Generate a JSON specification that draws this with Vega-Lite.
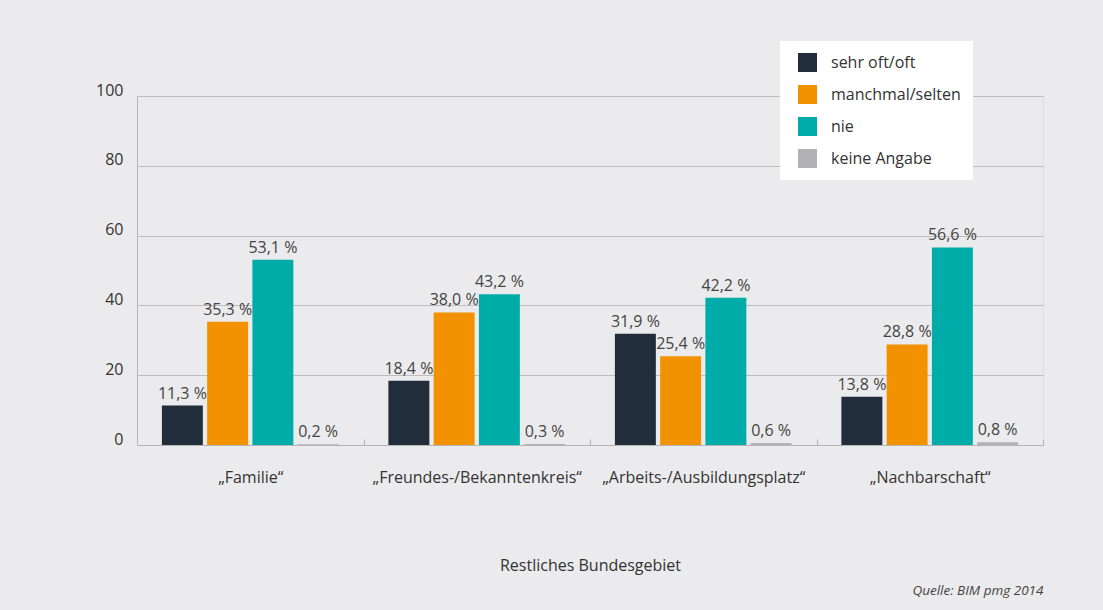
{
  "$schema": "https://vega.github.io/schema/vega-lite/v6.json",
  "width": 906,
  "height": 349,
  "autosize": {"type": "none"},
  "padding": {"left": 137, "top": 96, "right": 60, "bottom": 165},
  "background": "#ebebed",
  "title": {
    "text": "Quelle: BIM pmg 2014",
    "orient": "bottom",
    "anchor": "end",
    "fontStyle": "italic",
    "fontWeight": "normal",
    "fontSize": 13.5,
    "font": "Open Sans",
    "color": "#444444",
    "offset": 11
  },
  "data": {
    "values": [
      {"cat": "„Familie“", "series": "sehr oft/oft", "value": 11.3},
      {"cat": "„Familie“", "series": "manchmal/selten", "value": 35.3},
      {"cat": "„Familie“", "series": "nie", "value": 53.1},
      {"cat": "„Familie“", "series": "keine Angabe", "value": 0.2},
      {"cat": "„Freundes-/Bekanntenkreis“", "series": "sehr oft/oft", "value": 18.4},
      {"cat": "„Freundes-/Bekanntenkreis“", "series": "manchmal/selten", "value": 38.0},
      {"cat": "„Freundes-/Bekanntenkreis“", "series": "nie", "value": 43.2},
      {"cat": "„Freundes-/Bekanntenkreis“", "series": "keine Angabe", "value": 0.3},
      {"cat": "„Arbeits-/Ausbildungsplatz“", "series": "sehr oft/oft", "value": 31.9},
      {"cat": "„Arbeits-/Ausbildungsplatz“", "series": "manchmal/selten", "value": 25.4},
      {"cat": "„Arbeits-/Ausbildungsplatz“", "series": "nie", "value": 42.2},
      {"cat": "„Arbeits-/Ausbildungsplatz“", "series": "keine Angabe", "value": 0.6},
      {"cat": "„Nachbarschaft“", "series": "sehr oft/oft", "value": 13.8},
      {"cat": "„Nachbarschaft“", "series": "manchmal/selten", "value": 28.8},
      {"cat": "„Nachbarschaft“", "series": "nie", "value": 56.6},
      {"cat": "„Nachbarschaft“", "series": "keine Angabe", "value": 0.8}
    ]
  },
  "transform": [
    {"calculate": "replace(format(datum.value, '.1f'), '.', ',') + ' %'", "as": "label"}
  ],
  "encoding": {
    "x": {
      "field": "cat",
      "type": "nominal",
      "sort": null,
      "scale": {"paddingInner": 0, "paddingOuter": 0},
      "axis": {
        "title": "Restliches Bundesgebiet",
        "labelAngle": 0,
        "labelFontSize": 16,
        "labelFont": "Open Sans",
        "labelColor": "#333333",
        "labelPadding": 30,
        "labelLimit": 400,
        "tickBand": "extent",
        "tickSize": -6,
        "tickColor": "#b5b5b5",
        "domainColor": "#b5b5b5",
        "grid": false,
        "titleFontSize": 16,
        "titleFont": "Open Sans",
        "titleFontWeight": "normal",
        "titleColor": "#333333",
        "titlePadding": 72
      }
    },
    "xOffset": {
      "field": "series",
      "type": "nominal",
      "scale": {
        "domain": ["sehr oft/oft", "manchmal/selten", "nie", "keine Angabe"],
        "paddingInner": 0.095,
        "paddingOuter": 0.55
      }
    },
    "y": {
      "field": "value",
      "type": "quantitative",
      "scale": {"domain": [0, 100]},
      "axis": {
        "title": null,
        "values": [0, 20, 40, 60, 80, 100],
        "ticks": false,
        "labelPadding": 14,
        "labelFontSize": 16,
        "labelFont": "Open Sans",
        "labelColor": "#333333",
        "labelBaseline": "alphabetic",
        "labelOffset": -1,
        "domainColor": "#b5b5b5",
        "gridColor": "#bdbdbd",
        "gridWidth": 1
      }
    }
  },
  "layer": [
    {
      "mark": {"type": "bar"},
      "encoding": {
        "color": {
          "field": "series",
          "type": "nominal",
          "scale": {
            "domain": ["sehr oft/oft", "manchmal/selten", "nie", "keine Angabe"],
            "range": ["#222d3b", "#f39200", "#00aca7", "#b2b2b4"]
          },
          "legend": {
            "title": null,
            "orient": "none",
            "legendX": 643,
            "legendY": -55,
            "fillColor": "#ffffff",
            "padding": 12,
            "symbolOffset": 6,
            "symbolType": "square",
            "symbolSize": 361,
            "symbolStrokeWidth": 0,
            "symbolOpacity": 1,
            "rowPadding": 13,
            "labelFontSize": 16,
            "labelFont": "Open Sans",
            "labelColor": "#333333",
            "labelOffset": 14,
            "labelLimit": 300
          }
        }
      }
    },
    {
      "mark": {
        "type": "text",
        "baseline": "alphabetic",
        "align": "center",
        "dy": -7,
        "fontSize": 16,
        "font": "Open Sans",
        "color": "#444444"
      },
      "encoding": {
        "text": {"field": "label", "type": "nominal"}
      }
    }
  ]
}
